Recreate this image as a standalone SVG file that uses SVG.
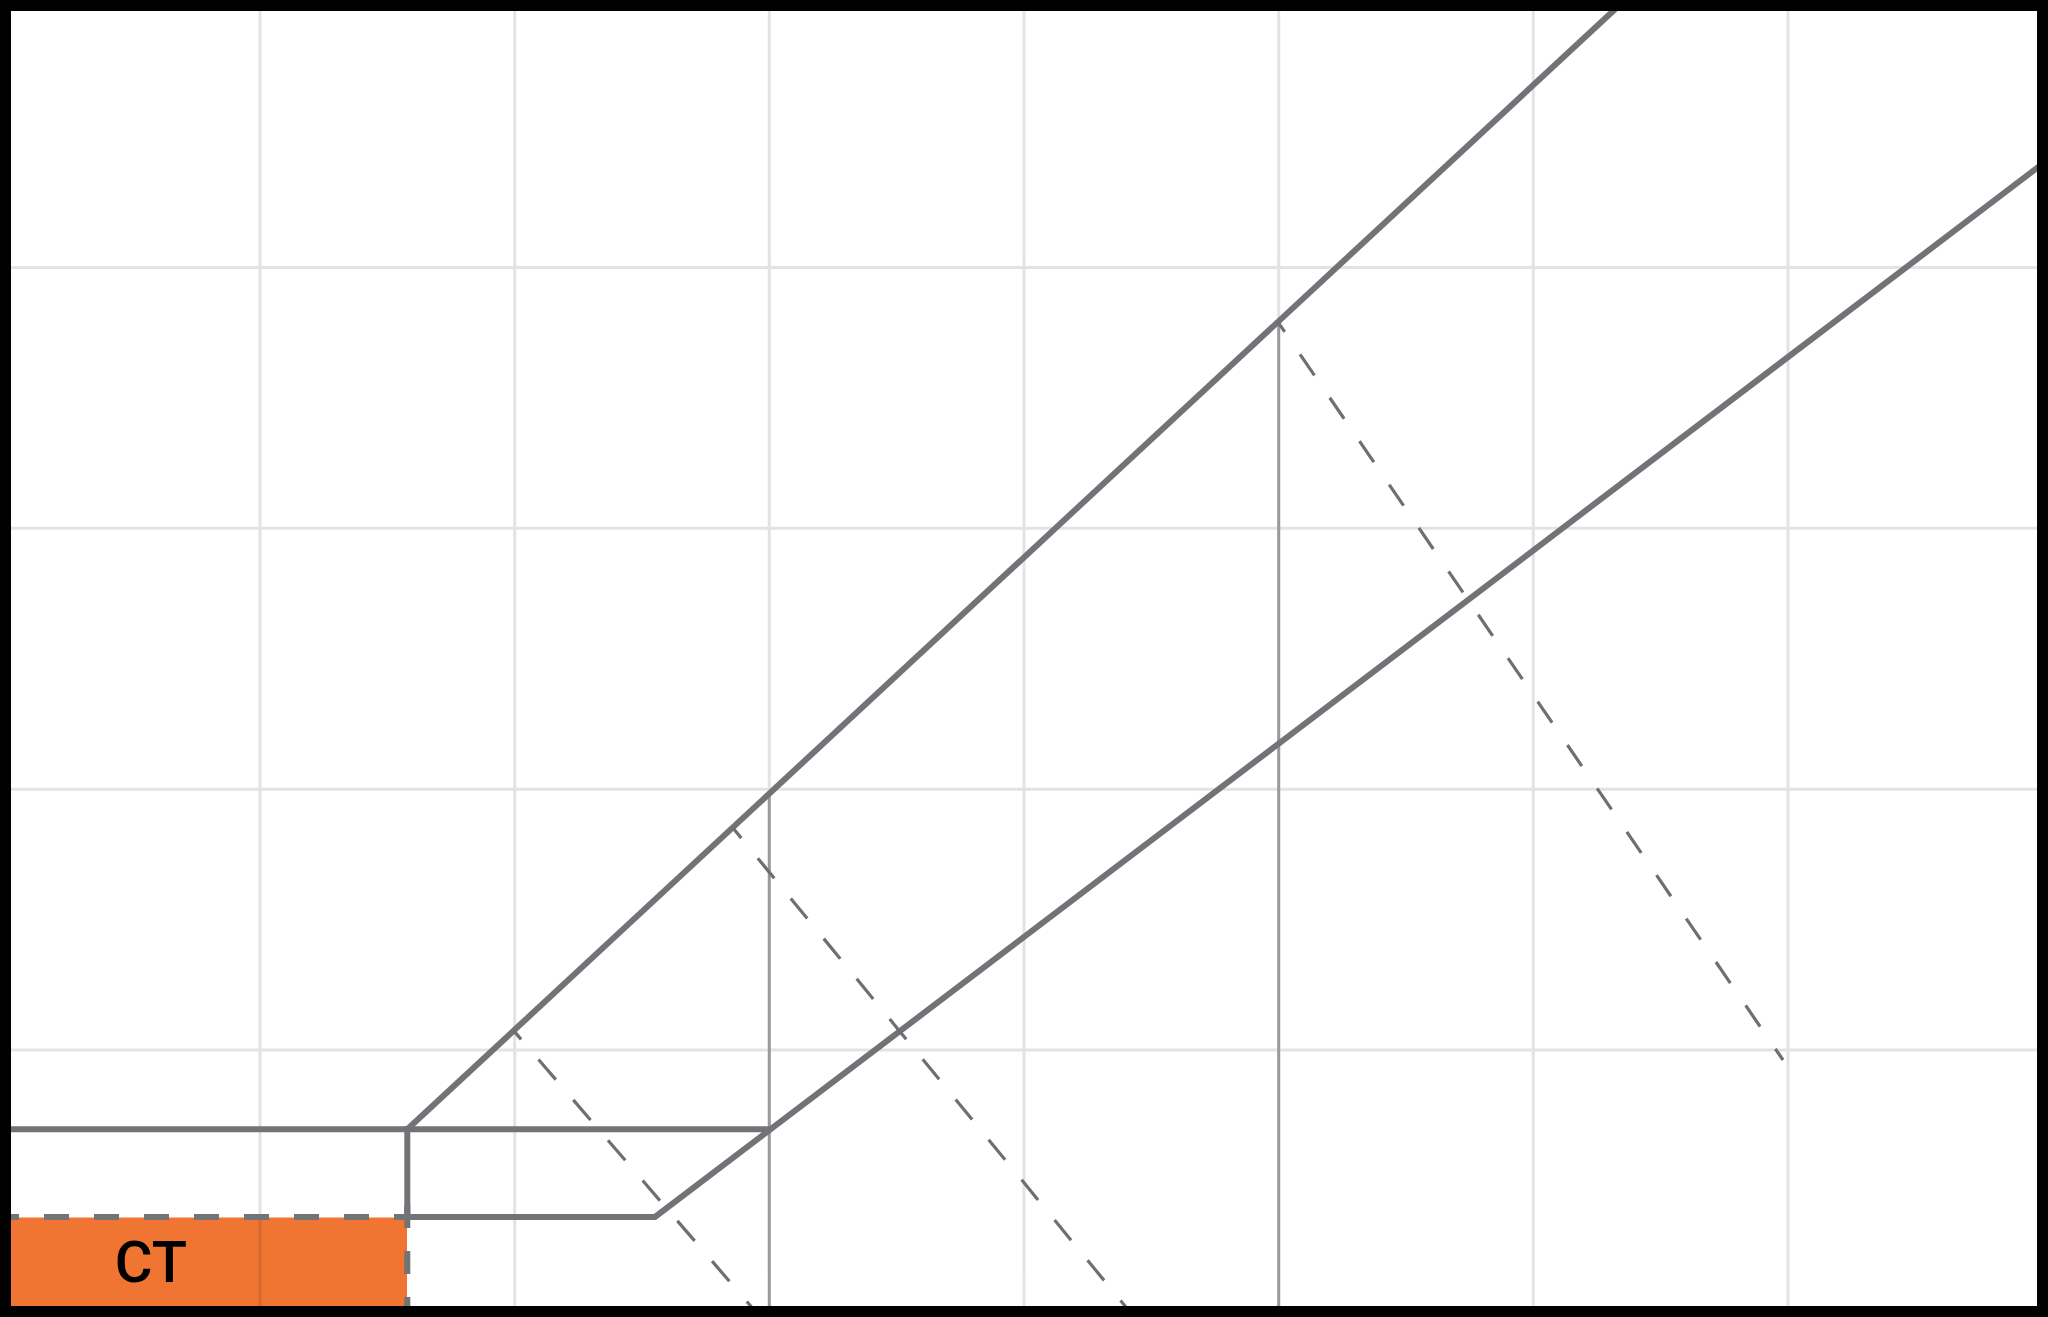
<svg xmlns="http://www.w3.org/2000/svg" width="2048" height="1317" viewBox="0 0 2048 1317">
  <style>
    .grid line { stroke: #000; stroke-width: 3; fill: none; }
    .guide { stroke: #9a9a9e; stroke-width: 3; fill: none; }
    .solid { stroke: #727376; stroke-width: 6; fill: none; stroke-linejoin: miter; }
    .dash { stroke: #6f6f72; stroke-width: 3.2; fill: none; }
    .bdash { stroke: #727376; stroke-width: 6; fill: none; stroke-dasharray: 25 25; }
    .label { font-family: Roboto, "Liberation Sans", sans-serif; font-weight: 500; font-size: 58px; fill: #000; }
  </style>
  <rect x="0" y="0" width="2048" height="1317" fill="#ffffff"/>

  <g id="ct-box">
    <rect x="11" y="1217.5" width="396" height="89" fill="#f07532"/>
    <text class="label" x="151" y="1282" text-anchor="middle">CT</text>
  </g>

  <g id="grid" class="grid" opacity="0.105">
    <line x1="260" y1="11" x2="260" y2="1306"/>
    <line x1="514.7" y1="11" x2="514.7" y2="1306"/>
    <line x1="769.3" y1="11" x2="769.3" y2="1306"/>
    <line x1="1024" y1="11" x2="1024" y2="1306"/>
    <line x1="1278.7" y1="11" x2="1278.7" y2="1306"/>
    <line x1="1533.3" y1="11" x2="1533.3" y2="1306"/>
    <line x1="1788" y1="11" x2="1788" y2="1306"/>
    <line x1="11" y1="267.5" x2="2037" y2="267.5"/>
    <line x1="11" y1="528.3" x2="2037" y2="528.3"/>
    <line x1="11" y1="789.2" x2="2037" y2="789.2"/>
    <line x1="11" y1="1050" x2="2037" y2="1050"/>
  </g>

  <g id="connectors">
    <line class="guide" x1="769.3" y1="793" x2="769.3" y2="1306"/>
    <line class="guide" x1="1278.7" y1="322" x2="1278.7" y2="1306"/>

    <line class="solid" x1="11" y1="1129.3" x2="769.3" y2="1129.3"/>
    <path class="solid" d="M407.3 1129.3 L1625 0"/>
    <path class="solid" d="M407.3 1126 V1217"/>
    <path class="solid" d="M404 1217 H655 L2048 159.7"/>
    <path class="bdash" d="M419 1217 H0"/>
    <path class="bdash" d="M407.3 1205 V1317" style="stroke-dasharray:23 23"/>

    <path class="dash" d="M513.4 1030.4 L755 1311" style="stroke-dasharray:26.5 26.7;stroke-dashoffset:14.7"/>
    <path class="dash" d="M732.4 827.3 L1130 1312" style="stroke-dasharray:26 26;stroke-dashoffset:12"/>
    <path class="dash" d="M1277.8 321.8 L1783 1060" style="stroke-dasharray:25.5 27.1;stroke-dashoffset:13.2"/>
  </g>

  <rect id="frame" x="5.5" y="5.5" width="2037" height="1306" fill="none" stroke="#000" stroke-width="11"/>
</svg>
